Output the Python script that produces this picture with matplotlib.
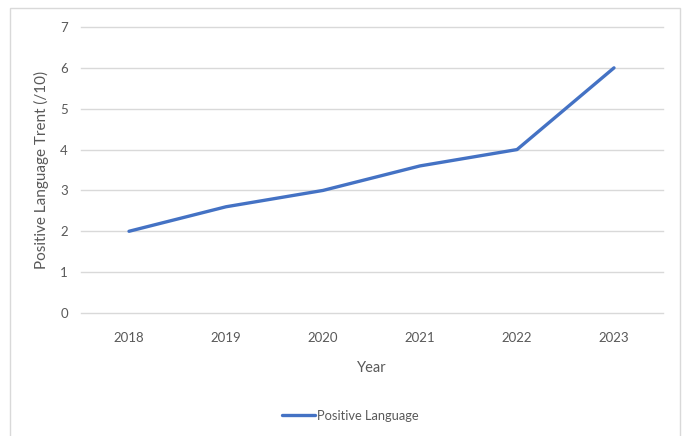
import matplotlib.pyplot as plt
from matplotlib.patches import Rectangle

years = ['2018', '2019', '2020', '2021', '2022', '2023']
positive = [2.0, 2.6, 3.0, 3.6, 4.0, 6.0]

plt.rcParams['font.family'] = ['Lato', 'DejaVu Sans']
txt = '#595959'
W, H = 682, 436

fig = plt.figure(figsize=(W / 100, H / 100), dpi=100)
# chart border (extends past bottom edge like the reference)
fig.patches.append(Rectangle((10 / W, -0.05), 670 / W, 1.05 - 8 / H,
                             transform=fig.transFigure, fill=False,
                             edgecolor='#D9D9D9', linewidth=1))

ax = fig.add_axes([80.5 / W, 1 - 313 / H, 582 / W, 286 / H])
x = range(len(years))
ax.plot(x, positive, color='#4472C4', linewidth=2.4, solid_capstyle='round',
        label='Positive Language')
ax.set_xlim(-0.5, len(years) - 0.5)
ax.set_ylim(0, 7)
ax.set_yticks(range(8))
ax.set_xticks(list(x))
ax.set_xticklabels(years)
ax.grid(axis='y', color='#D9D9D9', linewidth=1)
for gl in ax.get_ygridlines():
    gl.set_clip_on(False)
ax.set_axisbelow(True)
for s in ax.spines.values():
    s.set_visible(False)
ax.tick_params(length=0, labelsize=9.5, colors=txt, pad=14)
ax.tick_params(axis='y', pad=9)
ax.set_xlabel('Year', fontsize=10.5, color=txt, labelpad=12)
ax.set_ylabel('Positive Language Trent (/10)', fontsize=11, color=txt,
              labelpad=8)

fig.legend(loc='center', bbox_to_anchor=(350 / W, 1 - 416 / H), frameon=False,
           fontsize=9.3, labelcolor=txt, handlelength=2.6, handletextpad=0.1)

fig.savefig('out.png', dpi=100)
